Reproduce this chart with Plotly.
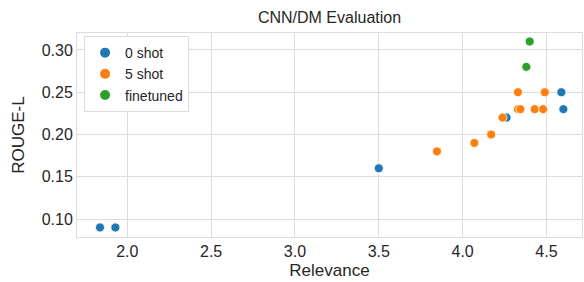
import plotly.graph_objects as go

zero_x = [1.837, 1.929, 3.50, 4.262, 4.589, 4.601]
zero_y = [0.09, 0.09, 0.16, 0.22, 0.25, 0.23]
five_x = [3.847, 4.07, 4.17, 4.238, 4.33, 4.33, 4.345, 4.43, 4.48, 4.49]
five_y = [0.18, 0.19, 0.20, 0.22, 0.25, 0.23, 0.23, 0.23, 0.23, 0.25]
ft_x = [4.40, 4.38]
ft_y = [0.31, 0.28]

series = [("0 shot", zero_x, zero_y, "#1f77b4"),
          ("5 shot", five_x, five_y, "#ff7f0e"),
          ("finetuned", ft_x, ft_y, "#2ca02c")]

FONT = "Liberation Sans, Arial, sans-serif"
fig = go.Figure()
for name, xs, ys, c in series:
    fig.add_trace(go.Scatter(x=xs, y=ys, mode="markers", name=name,
                             marker=dict(color=c, size=9, line=dict(color="white", width=0.8))))

fig.update_layout(
    width=584, height=282,
    margin=dict(l=77, r=2, t=33, b=45),
    paper_bgcolor="white", plot_bgcolor="white",
    font=dict(family=FONT, color="#262626", size=14),
    title=dict(text="CNN/DM Evaluation", x=(77 + 582) / 2 / 584, xanchor="center",
               y=1 - 17 / 282, yanchor="middle", font=dict(size=16)),
    legend=dict(x=0.014, y=0.985, xanchor="left", yanchor="top",
                bgcolor="white", bordercolor="#dddddd", borderwidth=1,
                font=dict(size=14), itemsizing="constant", tracegroupgap=0),
    showlegend=True,
)
fig.update_xaxes(range=[1.70, 4.712], tickvals=[2.0, 2.5, 3.0, 3.5, 4.0, 4.5],
                 tickformat=".1f", showgrid=True, gridcolor="#dcdcdc", gridwidth=1,
                 zeroline=False, showline=True, linecolor="#dcdcdc", mirror=True,
                 ticks="", tickfont=dict(size=16),
                 title=dict(text="Relevance", font=dict(size=17), standoff=4))
fig.update_yaxes(range=[0.0787, 0.3201], tickvals=[0.10, 0.15, 0.20, 0.25, 0.30],
                 tickformat=".2f", showgrid=True, gridcolor="#dcdcdc", gridwidth=1,
                 zeroline=False, showline=True, linecolor="#dcdcdc", mirror=True,
                 ticks="", tickfont=dict(size=16),
                 title=dict(text="ROUGE-L", font=dict(size=17), standoff=12))
fig.write_html("out.html", config={"displayModeBar": False},
               post_script="document.body.style.margin='0';")
